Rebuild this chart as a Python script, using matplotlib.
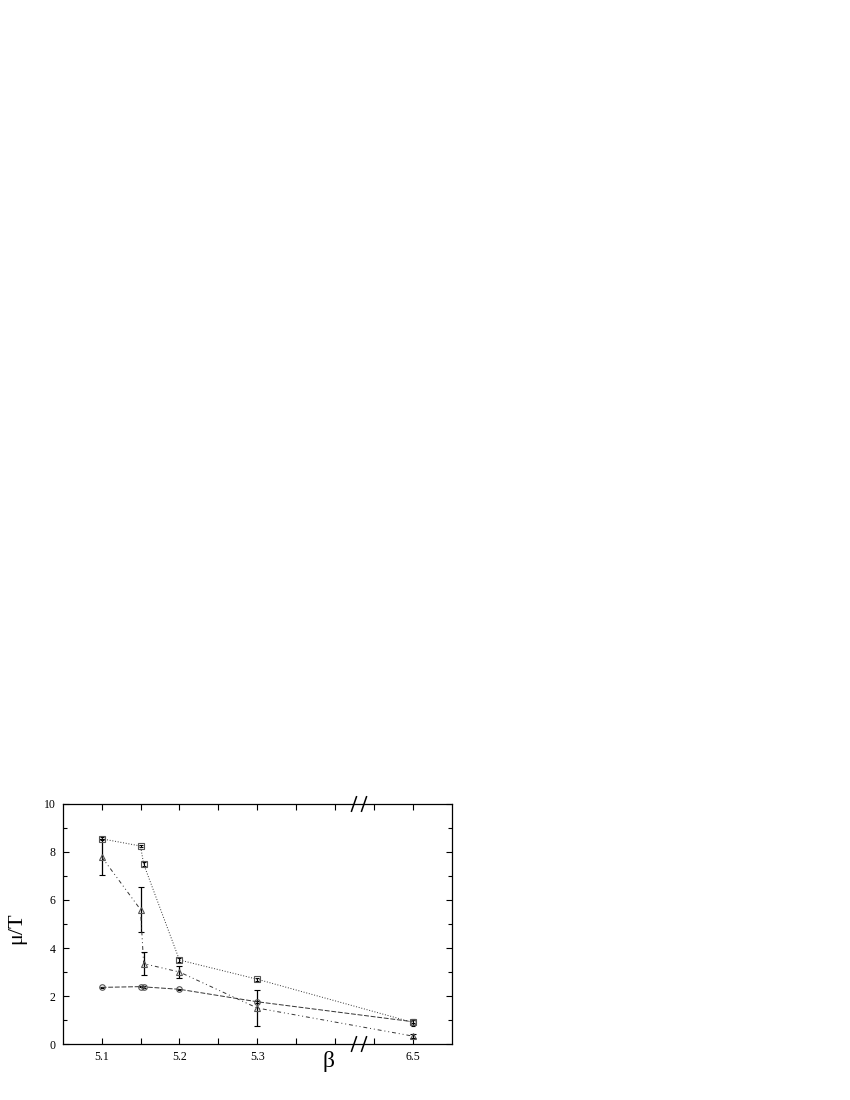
import matplotlib.pyplot as plt
from matplotlib.transforms import blended_transform_factory

plt.rcParams['font.family'] = ['Liberation Serif', 'DejaVu Serif']

# beta values (6.5 sits past the axis break)
beta_sq = [5.1, 5.15, 5.154, 5.2, 5.3, 6.5]
mu_sq = [8.55, 8.25, 7.5, 3.5, 2.7, 0.9]
err_sq = [0.07, 0.06, 0.08, 0.1, 0.07, 0.15]

beta_tri = [5.1, 5.15, 5.154, 5.2, 5.3, 6.5]
mu_tri = [7.8, 5.6, 3.35, 3.0, 1.5, 0.33]
err_tri = [0.75, 0.95, 0.48, 0.27, 0.75, 0.08]

beta_circ = [5.1, 5.15, 5.154, 5.2, 5.3, 6.5]
mu_circ = [2.36, 2.39, 2.38, 2.28, 1.76, 0.93]
err_circ = [0.03, 0.03, 0.03, 0.03, 0.05, 0.05]

xtick_vals = [5.1, 5.15, 5.2, 5.25, 5.3, 5.35, 5.4, 5.45, 6.5]
xtick_labels = ['5.1', '', '5.2', '', '5.3', '', '', '', '6.5']


def bx(b):
    # squeeze the gap between 5.45 and 6.5
    return [v - 1.0 if v > 6 else v for v in b]


fig = plt.figure(figsize=(8.5, 11), dpi=100)
ax = fig.add_axes([0.0738, 0.0509, 0.4576, 0.2182])

ax.errorbar(bx(beta_sq), mu_sq, yerr=err_sq, color='#333333', lw=0.7,
            dashes=(1, 1.8), marker='s', ms=4.2, mfc='none', mec='#555555',
            mew=0.8, ecolor='black', elinewidth=0.8, capsize=1.6)
ax.errorbar(bx(beta_tri), mu_tri, yerr=err_tri, color='#333333', lw=0.7,
            dashes=(4, 3, 1, 3, 1, 3), marker='^', ms=4.2, mfc='none',
            mec='#555555', mew=0.8, ecolor='black', elinewidth=0.9,
            capsize=2.2)
ax.errorbar(bx(beta_circ), mu_circ, yerr=err_circ, color='#333333', lw=0.7,
            dashes=(5, 1.8), marker='o', ms=4, mfc='none', mec='#555555',
            mew=0.8, ecolor='black', elinewidth=0.8, capsize=1.5)

ax.set_xlim(5.05, 5.55)
ax.set_ylim(0, 10)
ax.set_xticks(bx(xtick_vals))
ax.set_xticklabels(xtick_labels)
ax.set_yticks([0, 2, 4, 6, 8, 10])
ax.set_yticks([1, 3, 5, 7, 9], minor=True)
ax.tick_params(direction='in', top=True, right=True, length=4, width=0.8,
               labelsize=8.5, pad=5)
ax.tick_params(which='minor', direction='in', right=True, length=3, width=0.8)
for s in ax.spines.values():
    s.set_linewidth(0.9)

# axis break marks
tr = blended_transform_factory(ax.transData, ax.transAxes)
for yb in [0, 1]:
    for xb in [5.4244, 5.4373]:
        ax.plot([xb - 0.0032, xb + 0.0032], [yb - 0.03, yb + 0.03],
                color='black', lw=1.1, transform=tr, clip_on=False)

fig.text(17 / 850, 1 - 928 / 1100, 'μ/T', rotation=90, fontsize=16,
         ha='center', va='center')
fig.text(329 / 850, 1 - 1062 / 1100, 'β', fontsize=17,
         ha='center', va='center')

plt.savefig('out.png')
